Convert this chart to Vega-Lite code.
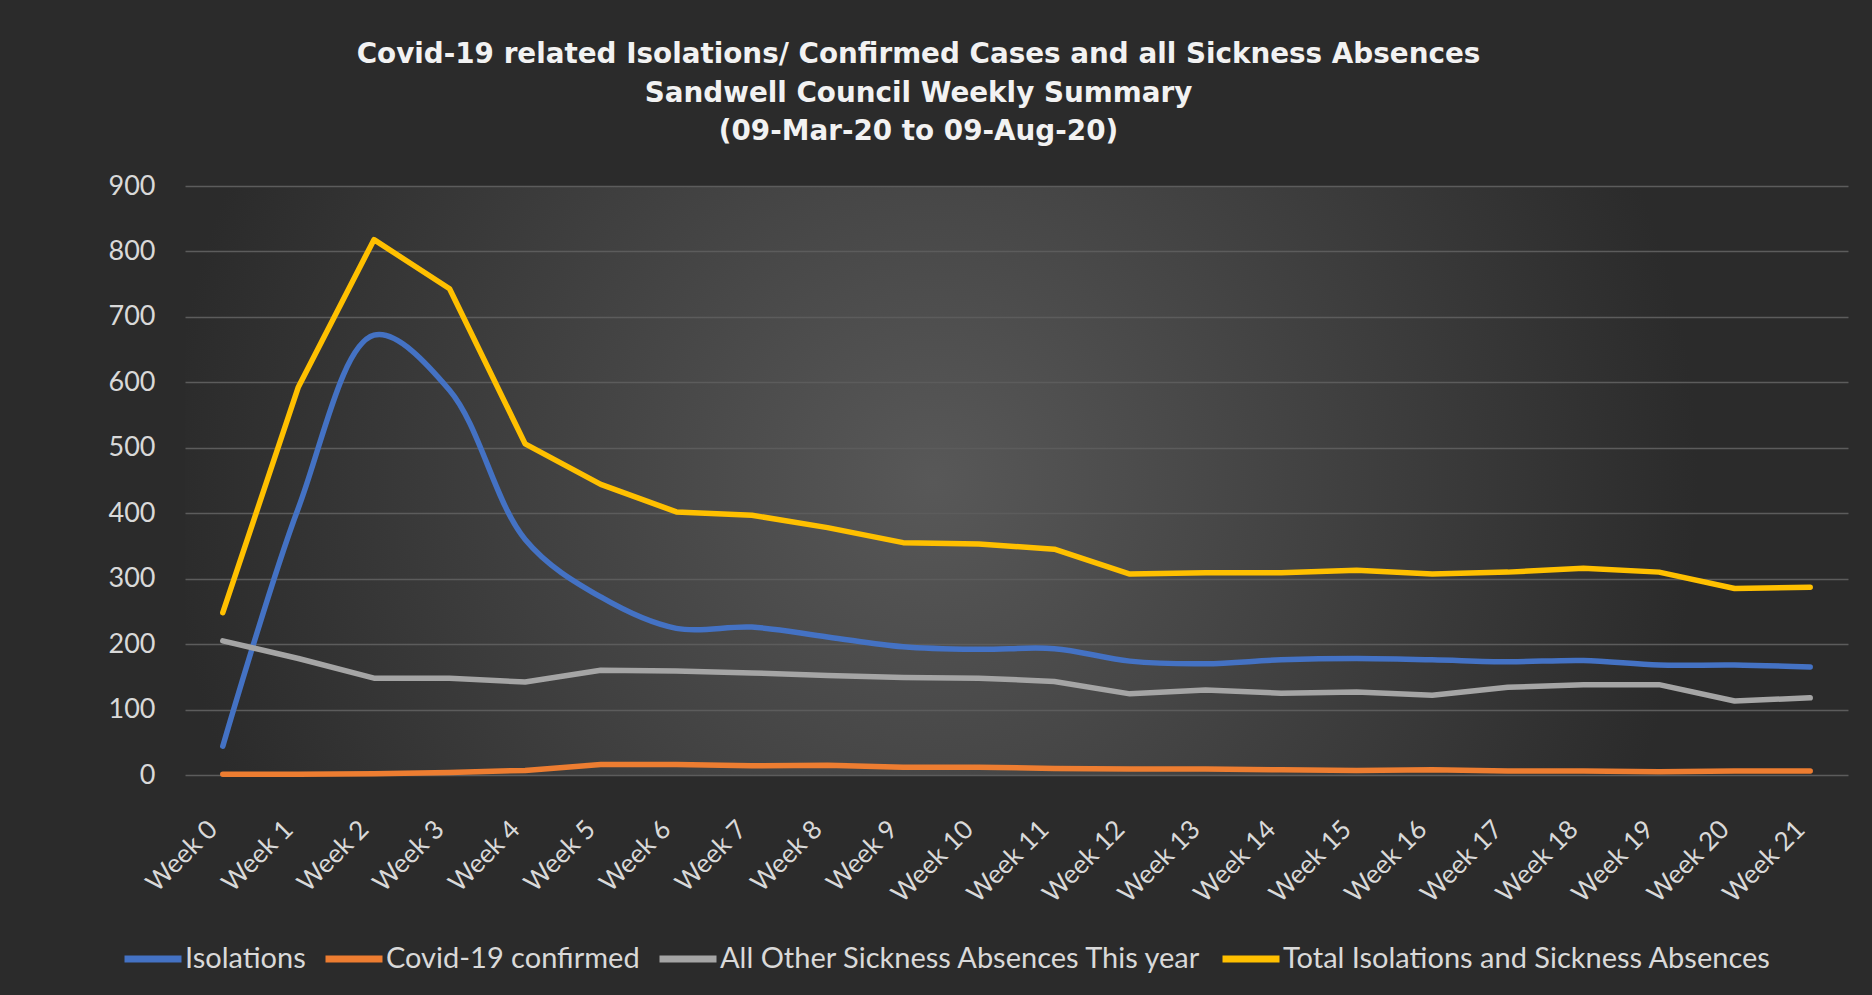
{
  "$schema": "https://vega.github.io/schema/vega-lite/v6.json",
  "width": 1663,
  "height": 589,
  "autosize": {"type": "none"},
  "padding": {"left": 185, "top": 186, "right": 24, "bottom": 220},
  "background": "#2b2b2b",
  "title": {
    "text": ["Covid-19 related Isolations/ Confirmed Cases and all Sickness Absences", "Sandwell Council Weekly Summary", "(09-Mar-20 to 09-Aug-20)"],
    "font": "DejaVu Sans",
    "fontSize": 27.8,
    "fontWeight": "bold",
    "color": "#F2F2F2",
    "lineHeight": 38.5,
    "anchor": "middle",
    "dx": -98,
    "offset": 26
  },
  "config": {
    "view": {
      "stroke": null,
      "fill": {
        "gradient": "radial",
        "x1": 0.45, "y1": 0.5, "r1": 0,
        "x2": 0.45, "y2": 0.5, "r2": 0.46,
        "stops": [
          {"offset": 0, "color": "#585858"},
          {"offset": 1, "color": "#2b2b2b"}
        ]
      }
    }
  },
  "data": {
    "values": [
      {"week": "Week 0", "series": "Isolations", "value": 44},
      {"week": "Week 1", "series": "Isolations", "value": 408},
      {"week": "Week 2", "series": "Isolations", "value": 672},
      {"week": "Week 3", "series": "Isolations", "value": 588},
      {"week": "Week 4", "series": "Isolations", "value": 360},
      {"week": "Week 5", "series": "Isolations", "value": 272},
      {"week": "Week 6", "series": "Isolations", "value": 224},
      {"week": "Week 7", "series": "Isolations", "value": 226},
      {"week": "Week 8", "series": "Isolations", "value": 211},
      {"week": "Week 9", "series": "Isolations", "value": 196},
      {"week": "Week 10", "series": "Isolations", "value": 192},
      {"week": "Week 11", "series": "Isolations", "value": 193},
      {"week": "Week 12", "series": "Isolations", "value": 174},
      {"week": "Week 13", "series": "Isolations", "value": 170},
      {"week": "Week 14", "series": "Isolations", "value": 176},
      {"week": "Week 15", "series": "Isolations", "value": 178},
      {"week": "Week 16", "series": "Isolations", "value": 176},
      {"week": "Week 17", "series": "Isolations", "value": 173},
      {"week": "Week 18", "series": "Isolations", "value": 175},
      {"week": "Week 19", "series": "Isolations", "value": 168},
      {"week": "Week 20", "series": "Isolations", "value": 168},
      {"week": "Week 21", "series": "Isolations", "value": 165},
      {"week": "Week 0", "series": "Covid-19 confirmed", "value": 1},
      {"week": "Week 1", "series": "Covid-19 confirmed", "value": 1},
      {"week": "Week 2", "series": "Covid-19 confirmed", "value": 2},
      {"week": "Week 3", "series": "Covid-19 confirmed", "value": 4},
      {"week": "Week 4", "series": "Covid-19 confirmed", "value": 7},
      {"week": "Week 5", "series": "Covid-19 confirmed", "value": 16},
      {"week": "Week 6", "series": "Covid-19 confirmed", "value": 16},
      {"week": "Week 7", "series": "Covid-19 confirmed", "value": 14},
      {"week": "Week 8", "series": "Covid-19 confirmed", "value": 15},
      {"week": "Week 9", "series": "Covid-19 confirmed", "value": 12},
      {"week": "Week 10", "series": "Covid-19 confirmed", "value": 12},
      {"week": "Week 11", "series": "Covid-19 confirmed", "value": 10},
      {"week": "Week 12", "series": "Covid-19 confirmed", "value": 9},
      {"week": "Week 13", "series": "Covid-19 confirmed", "value": 9},
      {"week": "Week 14", "series": "Covid-19 confirmed", "value": 8},
      {"week": "Week 15", "series": "Covid-19 confirmed", "value": 7},
      {"week": "Week 16", "series": "Covid-19 confirmed", "value": 8},
      {"week": "Week 17", "series": "Covid-19 confirmed", "value": 6},
      {"week": "Week 18", "series": "Covid-19 confirmed", "value": 6},
      {"week": "Week 19", "series": "Covid-19 confirmed", "value": 5},
      {"week": "Week 20", "series": "Covid-19 confirmed", "value": 6},
      {"week": "Week 21", "series": "Covid-19 confirmed", "value": 6},
      {"week": "Week 0", "series": "All Other Sickness Absences This year", "value": 205},
      {"week": "Week 1", "series": "All Other Sickness Absences This year", "value": 178},
      {"week": "Week 2", "series": "All Other Sickness Absences This year", "value": 148},
      {"week": "Week 3", "series": "All Other Sickness Absences This year", "value": 148},
      {"week": "Week 4", "series": "All Other Sickness Absences This year", "value": 142},
      {"week": "Week 5", "series": "All Other Sickness Absences This year", "value": 160},
      {"week": "Week 6", "series": "All Other Sickness Absences This year", "value": 159},
      {"week": "Week 7", "series": "All Other Sickness Absences This year", "value": 156},
      {"week": "Week 8", "series": "All Other Sickness Absences This year", "value": 152},
      {"week": "Week 9", "series": "All Other Sickness Absences This year", "value": 149},
      {"week": "Week 10", "series": "All Other Sickness Absences This year", "value": 148},
      {"week": "Week 11", "series": "All Other Sickness Absences This year", "value": 143},
      {"week": "Week 12", "series": "All Other Sickness Absences This year", "value": 124},
      {"week": "Week 13", "series": "All Other Sickness Absences This year", "value": 130},
      {"week": "Week 14", "series": "All Other Sickness Absences This year", "value": 125},
      {"week": "Week 15", "series": "All Other Sickness Absences This year", "value": 127},
      {"week": "Week 16", "series": "All Other Sickness Absences This year", "value": 122},
      {"week": "Week 17", "series": "All Other Sickness Absences This year", "value": 134},
      {"week": "Week 18", "series": "All Other Sickness Absences This year", "value": 138},
      {"week": "Week 19", "series": "All Other Sickness Absences This year", "value": 138},
      {"week": "Week 20", "series": "All Other Sickness Absences This year", "value": 113},
      {"week": "Week 21", "series": "All Other Sickness Absences This year", "value": 118},
      {"week": "Week 0", "series": "Total Isolations and Sickness Absences", "value": 248},
      {"week": "Week 1", "series": "Total Isolations and Sickness Absences", "value": 593},
      {"week": "Week 2", "series": "Total Isolations and Sickness Absences", "value": 818},
      {"week": "Week 3", "series": "Total Isolations and Sickness Absences", "value": 743},
      {"week": "Week 4", "series": "Total Isolations and Sickness Absences", "value": 506},
      {"week": "Week 5", "series": "Total Isolations and Sickness Absences", "value": 444},
      {"week": "Week 6", "series": "Total Isolations and Sickness Absences", "value": 402},
      {"week": "Week 7", "series": "Total Isolations and Sickness Absences", "value": 397},
      {"week": "Week 8", "series": "Total Isolations and Sickness Absences", "value": 378},
      {"week": "Week 9", "series": "Total Isolations and Sickness Absences", "value": 355},
      {"week": "Week 10", "series": "Total Isolations and Sickness Absences", "value": 353},
      {"week": "Week 11", "series": "Total Isolations and Sickness Absences", "value": 345},
      {"week": "Week 12", "series": "Total Isolations and Sickness Absences", "value": 307},
      {"week": "Week 13", "series": "Total Isolations and Sickness Absences", "value": 309},
      {"week": "Week 14", "series": "Total Isolations and Sickness Absences", "value": 309},
      {"week": "Week 15", "series": "Total Isolations and Sickness Absences", "value": 313},
      {"week": "Week 16", "series": "Total Isolations and Sickness Absences", "value": 307},
      {"week": "Week 17", "series": "Total Isolations and Sickness Absences", "value": 310},
      {"week": "Week 18", "series": "Total Isolations and Sickness Absences", "value": 316},
      {"week": "Week 19", "series": "Total Isolations and Sickness Absences", "value": 310},
      {"week": "Week 20", "series": "Total Isolations and Sickness Absences", "value": 285},
      {"week": "Week 21", "series": "Total Isolations and Sickness Absences", "value": 287}
    ]
  },
  "encoding": {
    "x": {
      "field": "week",
      "type": "nominal",
      "sort": ["Week 0", "Week 1", "Week 2", "Week 3", "Week 4", "Week 5", "Week 6", "Week 7", "Week 8", "Week 9", "Week 10", "Week 11", "Week 12", "Week 13", "Week 14", "Week 15", "Week 16", "Week 17", "Week 18", "Week 19", "Week 20", "Week 21"],
      "scale": {"type": "point", "padding": 0.5},
      "axis": {
        "title": null,
        "labelAngle": -45,
        "labelAlign": "right",
        "labelBaseline": "middle",
        "labelFont": "Lato",
        "labelFontSize": 26,
        "labelColor": "#D9D9D9",
        "labelPadding": 50,
        "labelOffset": -10,
        "ticks": false,
        "domain": false,
        "grid": false
      }
    },
    "y": {
      "field": "value",
      "type": "quantitative",
      "scale": {"domain": [0, 900], "nice": false},
      "axis": {
        "title": null,
        "values": [0, 100, 200, 300, 400, 500, 600, 700, 800, 900],
        "labelFont": "Lato",
        "labelFontSize": 27,
        "labelColor": "#D9D9D9",
        "labelPadding": 30,
        "ticks": false,
        "domain": false,
        "grid": true,
        "gridColor": "#5c5c5c",
        "gridWidth": 1.3
      }
    },
    "color": {
      "field": "series",
      "type": "nominal",
      "scale": {
        "domain": ["Isolations", "Covid-19 confirmed", "All Other Sickness Absences This year", "Total Isolations and Sickness Absences"],
        "range": ["#4472C4", "#ED7D31", "#A5A5A5", "#FFC000"]
      },
      "legend": {
        "title": null,
        "orient": "none",
        "direction": "horizontal",
        "legendX": -64,
        "legendY": 741,
        "symbolType": "stroke",
        "symbolSize": 3249,
        "symbolStrokeWidth": 7,
        "labelFont": "Lato",
        "labelFontSize": 29,
        "labelColor": "#D9D9D9",
        "labelLimit": 1000,
        "labelOffset": 0,
        "columnPadding": 5
      }
    }
  },
  "layer": [
    {
      "transform": [{"filter": "datum.series === 'Isolations'"}],
      "mark": {"type": "line", "interpolate": "catmull-rom", "strokeWidth": 5.5, "strokeCap": "round", "strokeJoin": "round"}
    },
    {
      "transform": [{"filter": "datum.series !== 'Isolations'"}],
      "mark": {"type": "line", "strokeWidth": 5.5, "strokeCap": "round", "strokeJoin": "round"}
    }
  ]
}
